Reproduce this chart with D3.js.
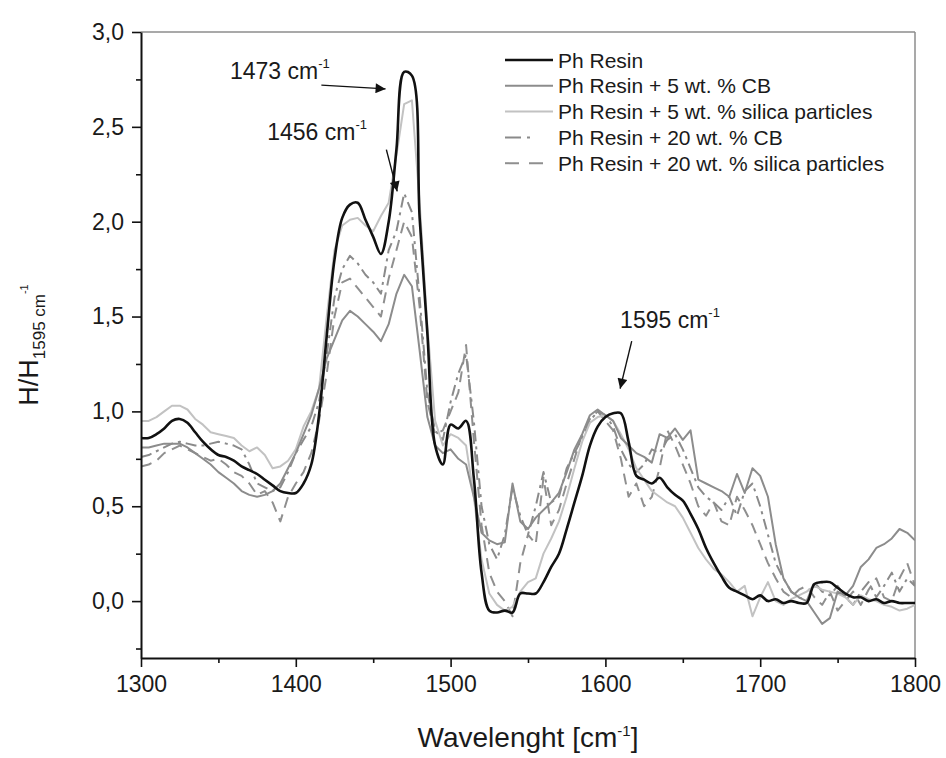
<!DOCTYPE html>
<html lang="en">
<head>
    <meta charset="UTF-8">
    <script src="https://d3js.org/d3.v7.min.js"></script>
    <title>H/H1595 spectra</title>
    <style>
        body { margin: 0; background: #fff; }
        svg text { font-family: "Liberation Sans", Arial, sans-serif; fill: #1a1a1a; }
    </style>
</head>
<body>
    <svg id="chart"></svg>
    <script>
        // wavenumber grid (cm-1), one value every 5
        const wavenumbers = [
            1300, 1305, 1310, 1315, 1320, 1325, 1330, 1335, 1340, 1345,
            1350, 1355, 1360, 1365, 1370, 1375, 1380, 1385, 1390, 1395,
            1400, 1405, 1410, 1415, 1420, 1425, 1430, 1435, 1440, 1445,
            1450, 1455, 1460, 1465, 1470, 1475, 1480, 1485, 1490, 1495,
            1500, 1505, 1510, 1515, 1520, 1525, 1530, 1535, 1540, 1545,
            1550, 1555, 1560, 1565, 1570, 1575, 1580, 1585, 1590, 1595,
            1600, 1605, 1610, 1615, 1620, 1625, 1630, 1635, 1640, 1645,
            1650, 1655, 1660, 1665, 1670, 1675, 1680, 1685, 1690, 1695,
            1700, 1705, 1710, 1715, 1720, 1725, 1730, 1735, 1740, 1745,
            1750, 1755, 1760, 1765, 1770, 1775, 1780, 1785, 1790, 1795,
            1800
        ];

        const phResin = [
            0.86, 0.86, 0.88, 0.91, 0.95, 0.96, 0.94, 0.89, 0.84, 0.80,
            0.77, 0.76, 0.74, 0.71, 0.69, 0.67, 0.64, 0.61, 0.58, 0.57,
            0.57, 0.62, 0.72, 0.98, 1.40, 1.80, 2.02, 2.09, 2.10, 2.01,
            1.92, 1.83, 2.00, 2.38, 2.79, 2.77, 2.02, 1.41, 0.82, 0.72,
            0.93, 0.91, 0.95, 0.65, 0.15, -0.05, -0.06, -0.05, -0.06, 0.04,
            0.04, 0.04, 0.10, 0.18, 0.25, 0.38, 0.52, 0.66, 0.82, 0.92,
            0.97, 0.99, 0.99, 0.84, 0.66, 0.64, 0.62, 0.65, 0.60, 0.56,
            0.53, 0.46, 0.38, 0.28, 0.20, 0.13, 0.07, 0.05, 0.03, 0.01,
            0.03, 0.00, 0.01, -0.01, 0.00, -0.01, -0.01, 0.09, 0.10, 0.10,
            0.07, 0.04, 0.02, 0.02, 0.00, 0.01, -0.01, 0.00, -0.01, -0.01,
            -0.01
        ];

        const cb5 = [
            0.81, 0.81, 0.82, 0.83, 0.83, 0.83, 0.81, 0.78, 0.75, 0.72,
            0.68, 0.65, 0.62, 0.58, 0.56, 0.55, 0.56, 0.58, 0.62, 0.70,
            0.78, 0.88, 0.98, 1.12, 1.28, 1.38, 1.48, 1.53, 1.50, 1.46,
            1.42, 1.37, 1.46, 1.62, 1.72, 1.66, 1.32, 0.97, 0.82, 0.78,
            0.80, 0.75, 0.72, 0.55, 0.36, 0.32, 0.30, 0.31, 0.62, 0.42,
            0.38, 0.44, 0.48, 0.52, 0.57, 0.68, 0.80, 0.88, 0.98, 1.01,
            0.98, 0.95, 0.86, 0.82, 0.78, 0.76, 0.73, 0.88, 0.86, 0.91,
            0.85, 0.90, 0.64, 0.62, 0.60, 0.58, 0.55, 0.67, 0.57, 0.70,
            0.66, 0.55, 0.30, 0.12, 0.05, 0.02, 0.00, -0.06, -0.12, -0.09,
            0.05, 0.03, 0.08, 0.18, 0.22, 0.28, 0.30, 0.33, 0.38, 0.36,
            0.32
        ];

        const silica5 = [
            0.95, 0.95, 0.97, 1.00, 1.03, 1.03, 1.01, 0.96, 0.93, 0.89,
            0.88, 0.87, 0.86, 0.82, 0.79, 0.81, 0.77, 0.70, 0.71, 0.74,
            0.80, 0.92, 1.00, 1.12, 1.50, 1.85, 1.98, 2.01, 2.02, 1.98,
            1.95, 2.03, 2.10, 2.35, 2.62, 2.64, 2.10, 1.45, 0.95, 0.82,
            0.88, 0.86, 0.82, 0.55, 0.22, 0.04, -0.02, -0.05, -0.03, 0.05,
            0.10, 0.12, 0.25, 0.33, 0.42, 0.55, 0.70, 0.84, 0.94, 0.97,
            0.98, 0.95, 0.88, 0.80, 0.70, 0.64, 0.58, 0.55, 0.52, 0.50,
            0.44, 0.36, 0.28, 0.22, 0.17, 0.14, 0.10, 0.05, 0.08, -0.08,
            0.02, 0.10, 0.00, -0.02, 0.01, 0.03, 0.05, 0.08, 0.06, 0.05,
            0.04, 0.02, -0.02, 0.03, 0.01, 0.00, -0.02, -0.03, -0.05, -0.04,
            -0.02
        ];

        const cb20 = [
            0.76, 0.77, 0.79, 0.81, 0.83, 0.84, 0.83, 0.82, 0.82, 0.83,
            0.84, 0.83, 0.82, 0.80, 0.72, 0.62, 0.60, 0.58, 0.60, 0.68,
            0.78, 0.85, 0.92, 1.05, 1.30, 1.60, 1.75, 1.82, 1.78, 1.72,
            1.68, 1.62, 1.85, 1.95, 2.15, 2.05, 1.60, 1.10, 0.90, 0.85,
            1.05, 1.20, 1.30, 0.95, 0.50, 0.30, 0.22, 0.35, 0.60, 0.45,
            0.35, 0.50, 0.68, 0.52, 0.55, 0.70, 0.78, 0.86, 0.95, 1.00,
            0.98, 0.92, 0.80, 0.72, 0.68, 0.72, 0.80, 0.78, 0.85, 0.88,
            0.80, 0.70, 0.60, 0.55, 0.52, 0.48, 0.55, 0.45, 0.58, 0.62,
            0.50, 0.35, 0.20, 0.12, 0.05, 0.02, 0.00, 0.10, 0.05, 0.03,
            0.08, 0.02, -0.02, 0.05, 0.10, 0.02, 0.08, 0.15, 0.05, 0.12,
            0.08
        ];

        const silica20 = [
            0.71, 0.72, 0.74, 0.78, 0.80, 0.82, 0.80, 0.78, 0.76, 0.74,
            0.75, 0.72, 0.68, 0.66, 0.62, 0.56, 0.58, 0.52, 0.42, 0.55,
            0.62, 0.68, 0.78, 0.95, 1.20, 1.50, 1.68, 1.70, 1.65, 1.60,
            1.55, 1.50, 1.70, 1.85, 2.00, 1.92, 1.55, 1.05, 0.88, 0.90,
            1.00, 1.10, 1.35, 0.85, 0.40, 0.15, 0.05, 0.00, -0.08, 0.20,
            0.35, 0.30, 0.65, 0.40, 0.48, 0.62, 0.75, 0.88, 0.96, 1.00,
            0.95, 0.90, 0.75, 0.55, 0.62, 0.50, 0.55, 0.70, 0.90, 0.82,
            0.72, 0.62, 0.50, 0.45, 0.52, 0.42, 0.40, 0.55, 0.48, 0.40,
            0.30, 0.20, 0.12, 0.05, 0.02, 0.06, 0.08, 0.02, -0.02, 0.05,
            -0.05, 0.00, 0.05, -0.02, 0.06, 0.12, 0.02, 0.00, 0.12, 0.20,
            0.08
        ];

        const seriesNames = [
            "Ph Resin",
            "Ph Resin + 5 wt. % CB",
            "Ph Resin + 5 wt. % silica particles",
            "Ph Resin + 20 wt. % CB",
            "Ph Resin + 20 wt. % silica particles"
        ];

        const xMajorTicks = [1300, 1400, 1500, 1600, 1700, 1800];
        const xMinorTicks = [1350, 1450, 1550, 1650, 1750];
        const yMajorTicks = [0, 0.5, 1.0, 1.5, 2.0, 2.5, 3.0];
        const yMinorTicks = [-0.25, 0.25, 0.75, 1.25, 1.75, 2.25, 2.75];

        // peak annotations: label position and arrow (data units)
        const peakLabels = ["1473", "1456", "1595"];
        const peakLabelAt = [[1357.5, 2.75], [1381.5, 2.43], [1609.5, 1.44]];
        const peakArrowFrom = [[1416.5, 2.72], [1458.5, 2.38], [1617, 1.37]];
        const peakArrowTo = [[1458, 2.70], [1465.5, 2.16], [1609.5, 1.12]];

        //declare variables
        const w = 946;
        const h = 758;
        const margin = {top: 32, right: 31, bottom: 100, left: 141};

        const svg = d3.select("#chart")
            .attr("width", w)
            .attr("height", h);

        const x = d3.scaleLinear()
            .domain([1300, 1800])
            .range([margin.left, w - margin.right]);

        const y = d3.scaleLinear()
            .domain([-0.3, 3.0])
            .range([h - margin.bottom, margin.top]);

        const commaFormat = d => d3.format(".1f")(d).replace(".", ",");

        // frame (top / right in grey)
        svg.append("line")
            .attr("x1", x(1300)).attr("x2", x(1800))
            .attr("y1", y(3.0)).attr("y2", y(3.0))
            .attr("stroke", "#8c8c8c").attr("stroke-width", 1.5);
        svg.append("line")
            .attr("x1", x(1800)).attr("x2", x(1800))
            .attr("y1", y(3.0)).attr("y2", y(-0.3))
            .attr("stroke", "#8c8c8c").attr("stroke-width", 1.5);

        svg.append("defs").append("clipPath")
            .attr("id", "plot-clip")
            .append("rect")
            .attr("x", x(1300))
            .attr("y", y(3.0))
            .attr("width", x(1800) - x(1300))
            .attr("height", y(-0.3) - y(3.0));

        const series = [
            {name: seriesNames[4], values: silica20, color: "#8f8f8f", width: 2, dash: "11,7", curve: d3.curveLinear},
            {name: seriesNames[3], values: cb20, color: "#8a8a8a", width: 2, dash: "11,5,3,5", curve: d3.curveLinear},
            {name: seriesNames[2], values: silica5, color: "#c2c2c2", width: 2, dash: null, curve: d3.curveLinear},
            {name: seriesNames[1], values: cb5, color: "#8c8c8c", width: 2, dash: null, curve: d3.curveLinear},
            {name: seriesNames[0], values: phResin, color: "#111111", width: 2.6, dash: null, curve: d3.curveCatmullRom.alpha(0.5)}
        ];

        const plot = svg.append("g").attr("clip-path", "url(#plot-clip)");

        series.forEach(s => {
            const line = d3.line()
                .x((d, i) => x(wavenumbers[i]))
                .y(d => y(d))
                .curve(s.curve);
            plot.append("path")
                .datum(s.values)
                .attr("fill", "none")
                .attr("stroke", s.color)
                .attr("stroke-width", s.width)
                .attr("stroke-dasharray", s.dash)
                .attr("stroke-linejoin", "round")
                .attr("d", line);
        });

        // axes
        svg.append("g")
            .attr("transform", `translate(0,${y(-0.3)})`)
            .call(d3.axisBottom(x).tickValues(xMajorTicks).tickSize(9).tickSizeOuter(0).tickPadding(9).tickFormat(d3.format("d")));
        svg.append("g")
            .attr("transform", `translate(0,${y(-0.3)})`)
            .call(d3.axisBottom(x).tickValues(xMinorTicks).tickSize(5).tickSizeOuter(0).tickFormat(""))
            .select(".domain").remove();

        svg.append("g")
            .attr("transform", `translate(${x(1300)},0)`)
            .call(d3.axisLeft(y).tickValues(yMajorTicks).tickSize(9).tickSizeOuter(0).tickPadding(8).tickFormat(commaFormat));
        svg.append("g")
            .attr("transform", `translate(${x(1300)},0)`)
            .call(d3.axisLeft(y).tickValues(yMinorTicks).tickSize(5).tickSizeOuter(0).tickFormat(""))
            .select(".domain").remove();

        svg.selectAll(".domain").attr("stroke", "#111").attr("stroke-width", 2);
        svg.selectAll(".tick line").attr("stroke", "#111").attr("stroke-width", 1.6);
        svg.selectAll(".tick text")
            .style("font-size", "23px")
            .style("font-family", "'Liberation Sans', Arial, sans-serif")
            .attr("fill", "#1a1a1a");

        // axis titles
        const xTitle = svg.append("text")
            .attr("x", (x(1300) + x(1800)) / 2)
            .attr("y", 747)
            .attr("text-anchor", "middle")
            .style("font-size", "28px");
        xTitle.append("tspan").text("Wavelenght [cm");
        xTitle.append("tspan").text("-1").attr("dy", -11).style("font-size", "15px");
        xTitle.append("tspan").text("]").attr("dy", 11);

        const yTitle = svg.append("text")
            .attr("transform", `translate(38,${(y(3.0) + y(-0.3)) / 2}) rotate(-90)`)
            .attr("text-anchor", "middle")
            .style("font-size", "27px");
        yTitle.append("tspan").text("H/H");
        yTitle.append("tspan").text("1595 cm").attr("dy", 7).style("font-size", "17px");
        yTitle.append("tspan").text("-1").attr("dy", -17).style("font-size", "11px");

        // legend
        const legend = svg.append("g").attr("id", "legend");
        const legendRows = [0, 1, 2, 3, 4];
        const legendStyle = [series[4], series[3], series[2], series[1], series[0]];

        legend.selectAll("line")
            .data(legendRows)
            .join("line")
            .attr("x1", 505)
            .attr("x2", 553)
            .attr("y1", i => 60 + i * 25.8)
            .attr("y2", i => 60 + i * 25.8)
            .attr("stroke", i => legendStyle[i].color)
            .attr("stroke-width", i => legendStyle[i].width)
            .attr("stroke-dasharray", i => legendStyle[i].dash ? (i === 3 ? "16,6,3,40" : "14,10") : null);

        legend.selectAll("text")
            .data(legendRows)
            .join("text")
            .attr("x", 558)
            .attr("y", i => 60 + i * 25.8 + 7.5)
            .style("font-size", "21px")
            .text(i => seriesNames[i]);

        // peak annotations
        svg.append("defs").append("marker")
            .attr("id", "arrowhead")
            .attr("viewBox", "0 0 10 10")
            .attr("refX", 10)
            .attr("refY", 5)
            .attr("markerWidth", 16)
            .attr("markerHeight", 10)
            .attr("markerUnits", "userSpaceOnUse")
            .attr("orient", "auto")
            .append("path")
            .attr("d", "M0,0 L10,5 L0,10 Z")
            .attr("fill", "#111");

        peakLabels.forEach((lbl, i) => {
            const t = svg.append("text")
                .attr("x", x(peakLabelAt[i][0]))
                .attr("y", y(peakLabelAt[i][1]))
                .style("font-size", "23px");
            t.append("tspan").text(lbl + " cm");
            t.append("tspan").text("-1").attr("dy", -11).style("font-size", "13px");

            svg.append("line")
                .attr("x1", x(peakArrowFrom[i][0]))
                .attr("y1", y(peakArrowFrom[i][1]))
                .attr("x2", x(peakArrowTo[i][0]))
                .attr("y2", y(peakArrowTo[i][1]))
                .attr("stroke", "#111")
                .attr("stroke-width", 1.4)
                .attr("marker-end", "url(#arrowhead)");
        });
    </script>
</body>
</html>
